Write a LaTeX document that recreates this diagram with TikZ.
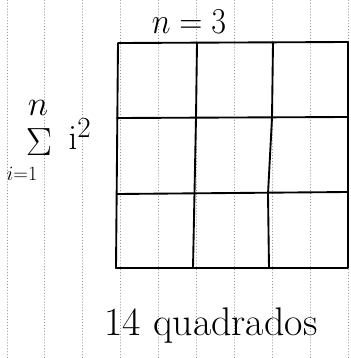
\documentclass[tikz,border=0pt]{standalone}
\usepackage{graphicx}
\usepackage{amsmath}
\usepackage{amssymb}
\usetikzlibrary{positioning}

\begin{document}
\begin{tikzpicture}[x=0.03cm, y=-0.03cm, line cap=round, line join=round]
			\tikzset{
				paperline/.style={gray!80, dotted, line width=0.5pt},
				penline/.style={black, line width=1.6pt},
				hand/.style={inner sep=0pt, font=\fontsize{24.88}{28}\selectfont}
			}
			\useasboundingbox (0,0) rectangle (350,358);
			
			% Paper lines
			\foreach \px in {7,44,82,120,158,196,234,272,310,348}
				\draw[paperline] (\px,0) -- (\px,358);
			
			% Corners of the squares
			\coordinate (tl) at (118,43);
			\coordinate (tr) at (348,42);
			\coordinate (bl) at (116,268);
			\coordinate (br) at (348,268);
			
			% Outer square
			\draw[penline] (tl) -- (tr) -- (br) -- (bl) -- cycle;
			
			% Rows
			\draw[penline] (117,118) -- (348,117);
			\draw[penline] (117,194) -- (348,192);
			
			% Columns
			\draw[penline] (197,43) -- (196,118) -- (193,268);
			\draw[penline] (273,43) -- (272,118) -- (268,194) -- (269,268);
			\fill (273,44) circle (1.4);
			
			% n = 3 on top
			\node[hand] (ntop) at (189,22) {\scalebox{1.1}[1.25]{$n=3$}};
			
			% Sum on the left
			\node[hand] (nsup) at (38,108) {\scalebox{1.2}{$n$}};
			\node[hand] (sigma) at (39,142) {\scalebox{1.35}{$\Sigma$}};
			\node[hand, font=\fontsize{18}{20}\selectfont] (ilow) at (22,174) {$i{=}1$};
			\node[hand] (isq) at (80,134) {\scalebox{1.2}{$\mathrm{i}^{2}$}};
			
			% Count below
			\node[hand] (count) at (211,326) {\scalebox{1.37}{14 quadrados}};
			
		\end{tikzpicture}
\end{document}
